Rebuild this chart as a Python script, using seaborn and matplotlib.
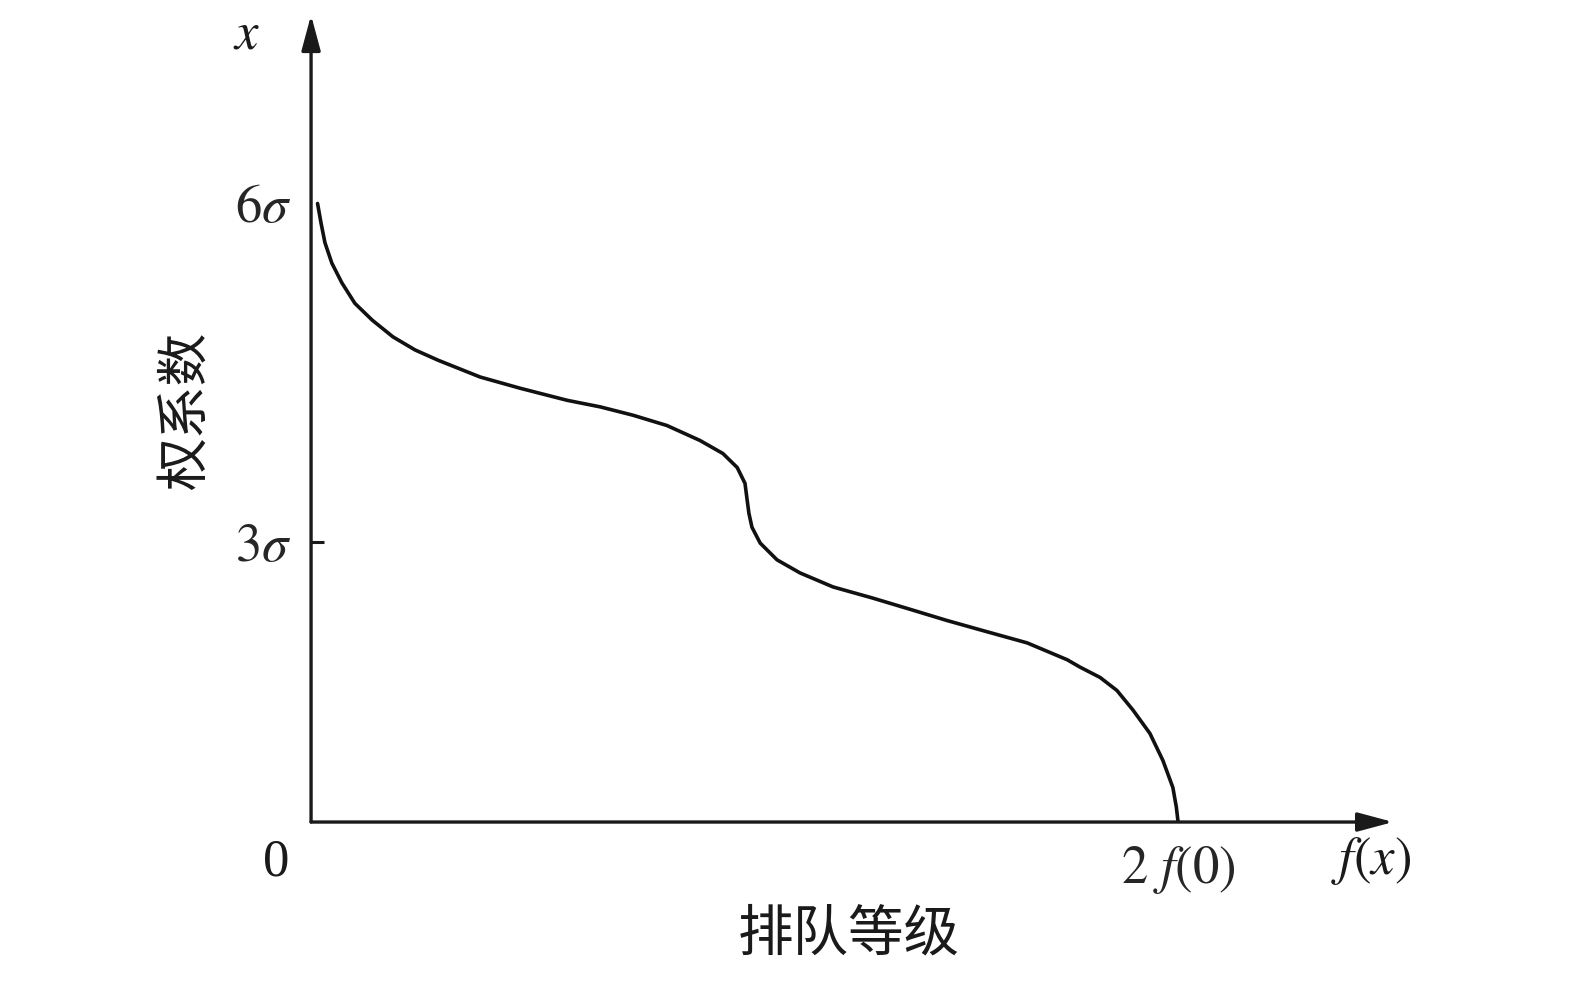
import numpy as np
import pandas as pd
import seaborn as sns
import matplotlib.pyplot as plt

# curve: x in units of f(0), y in units of sigma
rank_x = [0.015, 0.023, 0.032, 0.048, 0.071, 0.101, 0.141, 0.189, 0.240, 0.293,
          0.390, 0.482, 0.591, 0.667, 0.743, 0.821, 0.897, 0.950, 0.983, 1.001,
          1.006, 1.010, 1.017, 1.036, 1.075, 1.128, 1.204, 1.296, 1.389, 1.467,
          1.559, 1.652, 1.744, 1.774, 1.820, 1.859, 1.896, 1.935, 1.965, 1.988,
          1.996, 2.000]
weight_y = [6.63, 6.42, 6.21, 5.99, 5.78, 5.56, 5.38, 5.20, 5.06, 4.95,
            4.77, 4.65, 4.52, 4.45, 4.36, 4.25, 4.09, 3.95, 3.80, 3.63,
            3.45, 3.31, 3.16, 2.99, 2.81, 2.67, 2.52, 2.40, 2.27, 2.16,
            2.04, 1.92, 1.74, 1.66, 1.55, 1.41, 1.20, 0.95, 0.66, 0.37,
            0.16, 0.0]

y_ticks = [3.0, 6.63]
y_labels = [r'$3\sigma$', r'$6\sigma$']
x_ticks = [2.0]
x_labels = [r'$2\ f(0)$']

df = pd.DataFrame({'rank': rank_x, 'weight': weight_y})

sns.set_theme(style='white')
plt.rcParams['font.family'] = ['Liberation Serif', 'DejaVu Serif']
plt.rcParams['mathtext.fontset'] = 'stix'

fig = plt.figure(figsize=(15.75, 9.82), dpi=100)
ax = fig.add_axes([0.1975, 0.1629, 0.687, 0.8218])

sns.lineplot(data=df, x='rank', y='weight', sort=False, estimator=None,
             color='#111111', linewidth=2.6, ax=ax)
ax.lines[0].set_solid_joinstyle('round')

ax.set_xlim(0, 2.496)
ax.set_ylim(0, 8.65)
for s in ax.spines.values():
    s.set_visible(False)

# axis lines with arrow heads
arrow = dict(arrowstyle='-|>,head_length=1.08,head_width=0.29', color='#1a1a1a',
             lw=2.4, mutation_scale=20, shrinkA=0, shrinkB=0)
ax.annotate('', xy=(1, 0), xytext=(0, 0), xycoords='axes fraction',
            textcoords='axes fraction', arrowprops=arrow, annotation_clip=False)
ax.annotate('', xy=(0, 1), xytext=(0, 0), xycoords='axes fraction',
            textcoords='axes fraction', arrowprops=arrow, annotation_clip=False)

ax.set_yticks(y_ticks)
ax.set_yticklabels(y_labels, fontsize=38)
ax.tick_params(axis='y', direction='in', length=9, width=2.2, color='#1a1a1a', pad=14, left=True)
ax.yaxis.get_major_ticks()[1].tick1line.set_visible(False)
ax.set_xticks(x_ticks)
ax.set_xticklabels(x_labels, fontsize=38)
ax.tick_params(axis='x', length=0, pad=16)

ax.text(-0.032, -0.05, '0', transform=ax.transAxes, fontsize=38,
        ha='center', va='center', color='#1a1a1a')
ax.text(-0.06, 0.975, r'$x$', transform=ax.transAxes, fontsize=38,
        ha='center', va='center', color='#1a1a1a')
ax.text(0.98, -0.048, r'$f(x)$', transform=ax.transAxes, fontsize=38,
        ha='center', va='center', color='#1a1a1a')

ax.set_xlabel('排队等级', fontsize=40, family=['Noto Sans CJK SC', 'DejaVu Sans'],
              color='#1a1a1a')
ax.set_ylabel('权系数', fontsize=38, family=['Noto Sans CJK SC', 'DejaVu Sans'],
              color='#1a1a1a')
ax.xaxis.label.set_va('center')
ax.yaxis.label.set_va('center')
ax.xaxis.set_label_coords(0.497, -0.14)
ax.yaxis.set_label_coords(-0.116, 0.51)

fig.savefig('out.png', dpi=100, facecolor='white')
